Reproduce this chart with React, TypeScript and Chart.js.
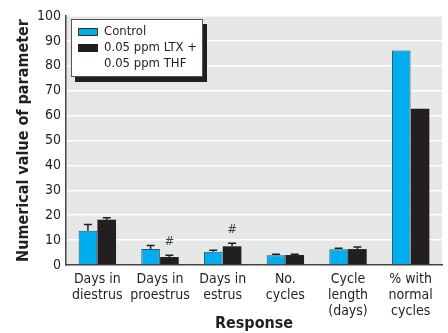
import React, { useEffect, useRef } from "react";
import { Chart, registerables } from "chart.js";

Chart.register(...registerables);

const categories: string[][] = [
  ["Days in", "diestrus"],
  ["Days in", "proestrus"],
  ["Days in", "estrus"],
  ["No.", "cycles"],
  ["Cycle", "length", "(days)"],
  ["% with", "normal", "cycles"],
];
const controlValues = [13.8, 6.4, 5.3, 3.9, 6.3, 86.1];
const controlErrors = [2.5, 1.4, 0.6, 0.4, 0.4, 0];
const ltxValues = [18.2, 3.2, 7.5, 4.0, 6.4, 62.8];
const ltxErrors = [0.8, 0.7, 1.2, 0.3, 0.8, 0];
const significant = [false, true, true, false, false, false];
const legendLabels = ["Control", "0.05 ppm LTX +", "0.05 ppm THF"];
const yTicks = [0, 10, 20, 30, 40, 50, 60, 70, 80, 90, 100];

const FONT = "'Liberation Sans Narrow', 'DejaVu Sans Condensed', 'Roboto Condensed', sans-serif";
const BLUE = "#00aeef";
const BLACK = "#231f20";

const overlay = {
  id: "overlay",
  beforeDraw(chart: any) {
    const { ctx, chartArea } = chart;
    ctx.save();
    ctx.fillStyle = "#e6e7e7";
    ctx.fillRect(chartArea.left, chartArea.top, chartArea.right - chartArea.left, chartArea.bottom - chartArea.top);
    ctx.restore();
  },
  afterDatasetsDraw(chart: any) {
    const { ctx } = chart;
    const y = chart.scales.y;
    const errs = [controlErrors, ltxErrors];
    const vals = [controlValues, ltxValues];
    ctx.save();
    ctx.strokeStyle = BLACK;
    ctx.lineWidth = 1.5;
    [0, 1].forEach((d) => {
      const meta = chart.getDatasetMeta(d);
      meta.data.forEach((bar: any, i: number) => {
        const e = errs[d][i];
        if (!e) return;
        const y0 = y.getPixelForValue(vals[d][i]);
        const y1 = y.getPixelForValue(vals[d][i] + e);
        ctx.beginPath();
        ctx.moveTo(bar.x, y0);
        ctx.lineTo(bar.x, y1);
        ctx.moveTo(bar.x - 4, y1);
        ctx.lineTo(bar.x + 4, y1);
        ctx.stroke();
      });
    });
    // significance marks
    const meta1 = chart.getDatasetMeta(1);
    ctx.fillStyle = "#444";
    ctx.font = `italic 13px ${FONT}`;
    ctx.textAlign = "center";
    ctx.textBaseline = "middle";
    meta1.data.forEach((bar: any, i: number) => {
      if (!significant[i]) return;
      const yy = y.getPixelForValue(ltxValues[i] + ltxErrors[i]) - 14;
      ctx.fillText("#", bar.x, yy);
    });
    // legend
    const lx = 71, ly = 19, lw = 132, lh = 58;
    ctx.fillStyle = BLACK;
    ctx.fillRect(lx + 4, ly + 5, lw, lh);
    ctx.fillStyle = "#ffffff";
    ctx.fillRect(lx, ly, lw, lh);
    ctx.strokeStyle = "#555";
    ctx.lineWidth = 1;
    ctx.strokeRect(lx + 0.5, ly + 0.5, lw - 1, lh - 1);
    ctx.fillStyle = BLUE;
    ctx.fillRect(78, 28, 20, 8);
    ctx.strokeStyle = "#333";
    ctx.strokeRect(78.5, 28.5, 19, 7);
    ctx.fillStyle = BLACK;
    ctx.fillRect(78, 44, 20, 8);
    ctx.font = `13px ${FONT}`;
    ctx.textAlign = "left";
    ctx.fillStyle = "#231f20";
    ctx.fillText(legendLabels[0], 104, 32);
    ctx.fillText(legendLabels[1], 104, 48);
    ctx.fillText(legendLabels[2], 104, 64);
    ctx.restore();
  },
};

export default function App() {
  const ref = useRef<HTMLCanvasElement>(null);
  useEffect(() => {
    document.body.style.margin = "0";
    const chart = new Chart(ref.current!, {
      type: "bar",
      data: {
        labels: categories,
        datasets: [
          { label: legendLabels[0], data: controlValues, backgroundColor: BLUE, borderColor: "#2a5566", borderWidth: 1 },
          { label: legendLabels[1] + " " + legendLabels[2], data: ltxValues, backgroundColor: BLACK, borderColor: BLACK, borderWidth: 0 },
        ],
      },
      options: {
        animation: false,
        responsive: false,
        layout: { padding: { top: 16, right: 6, left: 0, bottom: 0 } },
        datasets: { bar: { categoryPercentage: 0.6, barPercentage: 0.99 } },
        plugins: { legend: { display: false }, tooltip: { enabled: false } },
        scales: {
          x: {
            grid: { display: false, drawTicks: false },
            border: { color: "#444", width: 1.5 },
            ticks: { color: "#231f20", font: { family: FONT, size: 14, lineHeight: 1.15 }, padding: 6, maxRotation: 0, autoSkip: false },
            title: { display: true, text: "Response", color: "#231f20", font: { family: FONT, size: 16, weight: "bold" }, padding: { top: 0, bottom: 0 } },
            afterFit(scale: any) { scale.height = 68; },
          },
          y: {
            min: 0,
            max: 100,
            afterBuildTicks(scale: any) { scale.ticks = yTicks.map((v) => ({ value: v })); },
            grid: { color: "#ffffff", lineWidth: 1.5, drawTicks: false },
            border: { color: "#444", width: 1.5 },
            ticks: { color: "#231f20", font: { family: FONT, size: 14 }, padding: 5 },
            title: { display: true, text: "Numerical value of parameter", color: "#231f20", font: { family: FONT, size: 16, weight: "bold" }, padding: { top: 14, bottom: 4 } },
            afterFit(scale: any) { scale.width = 66; },
          },
        },
      },
      plugins: [overlay],
    });
    return () => chart.destroy();
  }, []);
  return <canvas ref={ref} width={448} height={333} style={{ display: "block" }} />;
}
